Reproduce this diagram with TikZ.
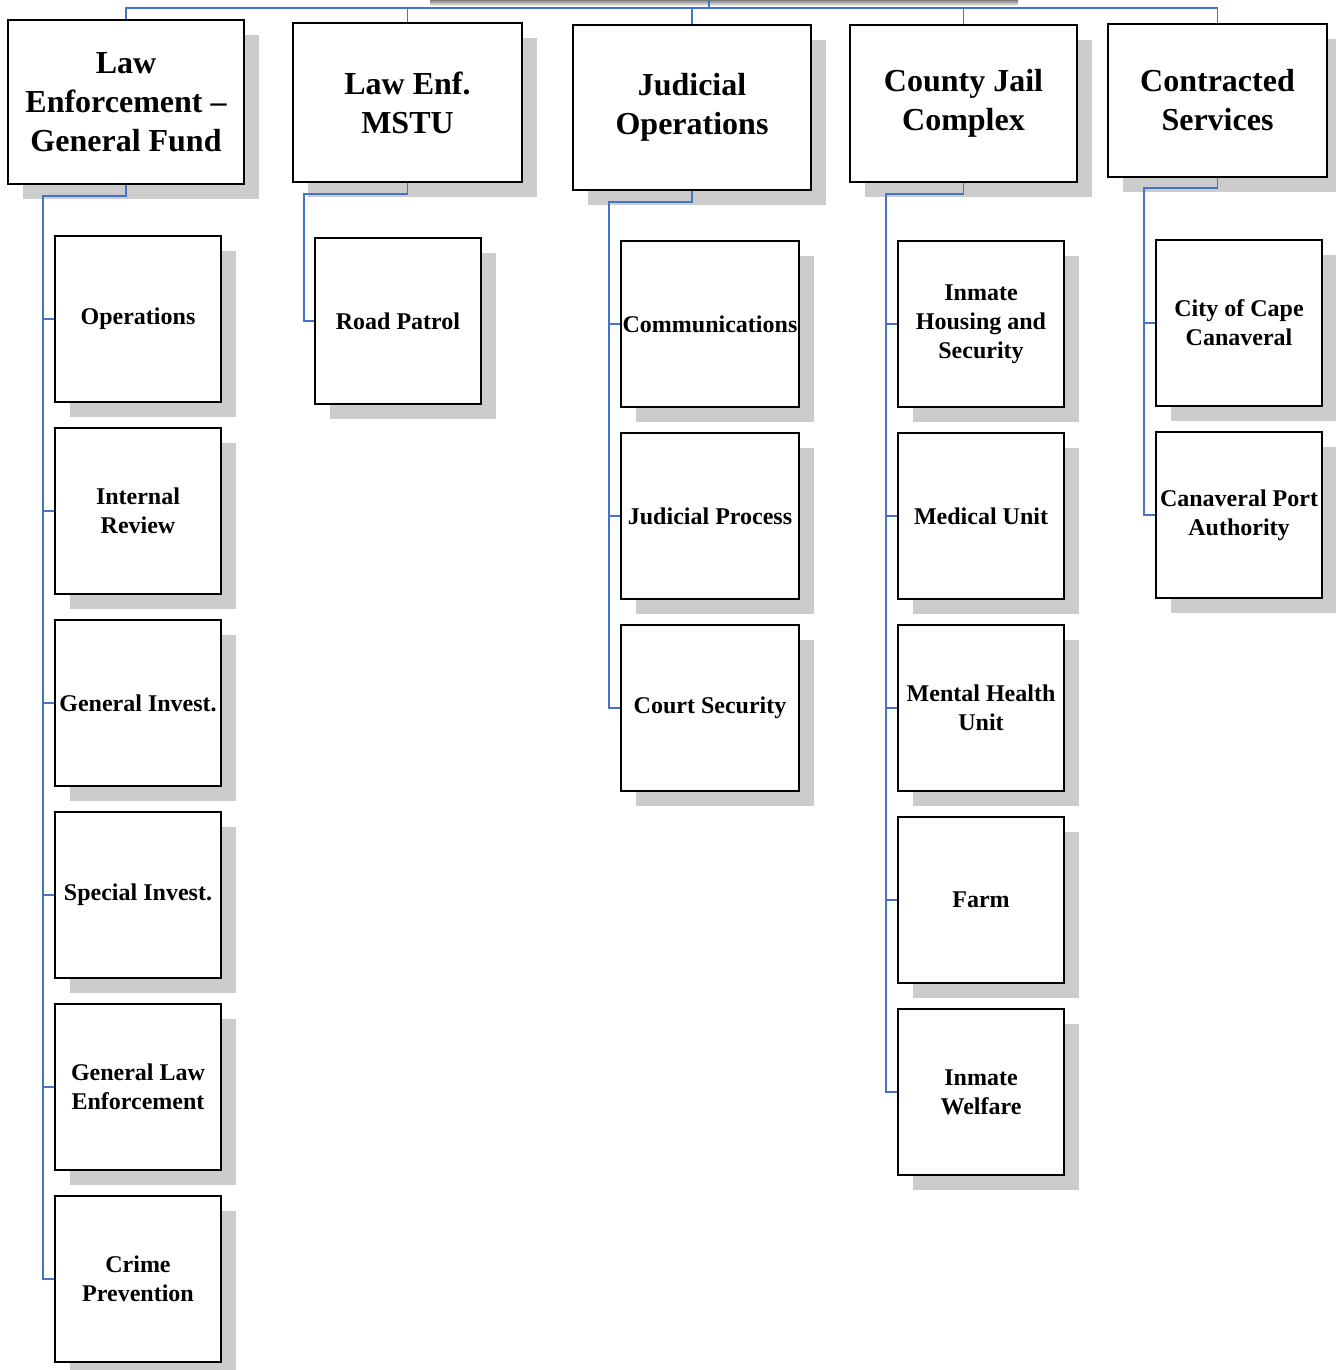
\documentclass[tikz,border=0pt]{standalone}
\usepackage{fontspec}
\setmainfont{Liberation Serif}
\usetikzlibrary{shadows}
\definecolor{linkblue}{HTML}{4472C4}
\definecolor{shade}{HTML}{CCCCCC}
\tikzset{
  unitbox/.style={draw, line width=1pt, fill=white, align=center, inner sep=1pt,
    font=\bfseries\fontsize{12}{14.5}\selectfont,
    minimum width=83pt, minimum height=83pt,
    general shadow={fill=shade, shadow xshift=7.5pt, shadow yshift=-7.5pt}},
  headbox/.style={unitbox, font=\bfseries\fontsize{16}{19.5}\selectfont},
  link/.style={linkblue, line width=0.9pt}
}
\begin{document}
\begin{tikzpicture}[x=0.5pt, y=-0.5pt]

  \useasboundingbox (0,0) rectangle (1336,1370);
  \fill[shade] (430,0) rectangle (1018,6);
  \coordinate (top) at (709,0);
  \coordinate (bus) at (709,8);

  % department heads
  \node[headbox, minimum width=118pt, minimum height=82pt] (gf) at (126,102) {Law\\Enforcement --\\General Fund};
  \node[headbox, minimum width=114.5pt, minimum height=79.5pt] (mstu) at (407.5,102.5) {Law Enf.\\MSTU};
  \node[headbox, minimum width=119pt, minimum height=82.5pt] (jud) at (692,107.5) {Judicial\\Operations};
  \node[headbox, minimum width=113.5pt, minimum height=78.5pt] (jail) at (963.5,103.5) {County Jail\\Complex};
  \node[headbox, minimum width=109.5pt, minimum height=76.5pt] (cont) at (1217.5,100.5) {Contracted\\Services};

  % units
  \foreach \i/\y/\txt in {1/319/Operations, 2/511/{Internal\\Review}, 3/703/General Invest.,
      4/895/Special Invest., 5/1087/{General Law\\Enforcement}, 6/1279/{Crime\\Prevention}}
    \node[unitbox] (gf\i) at (138,\y) {\txt};

  \node[unitbox] (mstu1) at (398,321) {Road Patrol};

  \foreach \i/\y/\txt in {1/324/Communications, 2/516/Judicial Process, 3/708/Court Security}
    \node[unitbox, minimum width=89pt] (jud\i) at (710,\y) {\txt};

  \foreach \i/\y/\txt in {1/324/{Inmate\\Housing and\\Security}, 2/516/Medical Unit,
      3/708/{Mental Health\\Unit}, 4/900/Farm, 5/1092/{Inmate\\Welfare}}
    \node[unitbox] (jail\i) at (981,\y) {\txt};

  \foreach \i/\y/\txt in {1/323/{City of Cape\\Canaveral}, 2/515/{Canaveral Port\\Authority}}
    \node[unitbox] (cont\i) at (1239,\y) {\txt};

  % connectors
  \foreach \n in {gf,mstu,jud,jail,cont}
    \draw[link] (top) -- (bus) -| (\n.north);

  \coordinate (gfs) at (43,196);
  \draw[link] (gf.south) |- (gfs) |- (gf6.west);
  \foreach \i in {1,...,5}
    \draw[link] (gfs |- gf\i.west) -- (gf\i.west);

  \coordinate (mstus) at (304,194);
  \draw[link] (mstu.south) |- (mstus) |- (mstu1.west);

  \coordinate (juds) at (609,202);
  \draw[link] (jud.south) |- (juds) |- (jud3.west);
  \foreach \i in {1,2}
    \draw[link] (juds |- jud\i.west) -- (jud\i.west);

  \coordinate (jails) at (886,194);
  \draw[link] (jail.south) |- (jails) |- (jail5.west);
  \foreach \i in {1,...,4}
    \draw[link] (jails |- jail\i.west) -- (jail\i.west);

  \coordinate (conts) at (1144,188);
  \draw[link] (cont.south) |- (conts) |- (cont2.west);
  \draw[link] (conts |- cont1.west) -- (cont1.west);

\end{tikzpicture}
\end{document}
